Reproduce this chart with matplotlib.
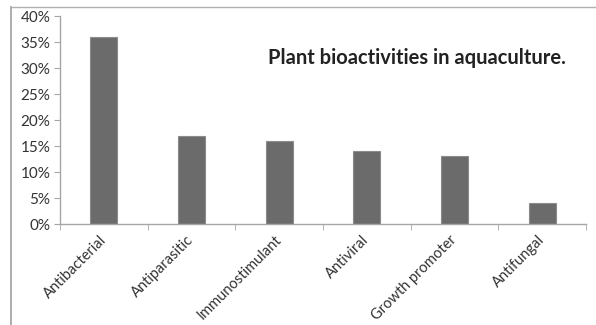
import matplotlib.pyplot as plt
from matplotlib.lines import Line2D
from matplotlib.ticker import FuncFormatter, FixedLocator

categories = ["Antibacterial", "Antiparasitic", "Immunostimulant",
              "Antiviral", "Growth promoter", "Antifungal"]
values = [36, 17, 16, 14, 13, 4]

plt.rcParams['font.family'] = ['Lato', 'DejaVu Sans']

fig = plt.figure(figsize=(5.96, 3.25), dpi=100)
ax = fig.add_axes([60/596, 1-224/325, 526/596, 208/325])

x = list(range(len(categories)))
ax.bar(x, values, width=0.31, color="#6b6b6b", edgecolor="#8c8c8c", linewidth=0.8)

ax.set_xlim(-0.5, len(categories)-0.5)
ax.set_ylim(0, 40)
ax.set_yticks(range(0, 41, 5))
ax.yaxis.set_major_formatter(FuncFormatter(lambda v, p: "%d%%" % v))

ax.set_xticks(x)
ax.set_xticklabels(categories, rotation=45, ha="right", va="center", rotation_mode="anchor")
ax.xaxis.set_minor_locator(FixedLocator([i + 0.5 for i in range(-1, len(categories))]))
ax.tick_params(axis="x", which="major", length=0, pad=10, labelsize=10.5, colors="#333333")
ax.tick_params(axis="x", which="minor", length=4, color="#a6a6a6", direction="out")
ax.tick_params(axis="y", length=4, color="#a6a6a6", labelsize=11, labelcolor="#333333", pad=3)

for s in ["top", "right"]:
    ax.spines[s].set_visible(False)
for s in ["left", "bottom"]:
    ax.spines[s].set_color("#a6a6a6")
    ax.spines[s].set_linewidth(1.0)

ax.text(208/526, 0.80, "Plant bioactivities in aquaculture.", transform=ax.transAxes,
        fontsize=14.5, fontweight="bold", color="#222222", va="center")

# chart frame, cut off at right and bottom
fig.add_artist(Line2D([11/596, 11/596], [0, 1-7/325], transform=fig.transFigure,
                      color="#a0a0a0", linewidth=1.2))
fig.add_artist(Line2D([11/596, 1], [1-7/325, 1-7/325], transform=fig.transFigure,
                      color="#b0b0b0", linewidth=1.0))

fig.savefig("out.png", dpi=100)
